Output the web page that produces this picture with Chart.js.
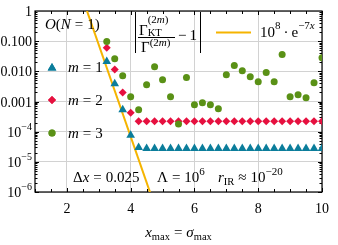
<!DOCTYPE html>
<html>
<head>
<meta charset="utf-8">
<script src="https://cdn.jsdelivr.net/npm/chart.js@4.4.1/dist/chart.umd.min.js"></script>
<style>
    html, body { margin: 0; padding: 0; background: #fff; }
</style>
</head>
<body>
<canvas id="graficoDesvio" width="338" height="245"></canvas>
<script>
// x_max values (step 0.25)
const xMax = [3.25, 3.5, 3.75, 4.0, 4.25, 4.5, 4.75, 5.0, 5.25, 5.5, 5.75, 6.0, 6.25, 6.5,
              6.75, 7.0, 7.25, 7.5, 7.75, 8.0, 8.25, 8.5, 8.75, 9.0, 9.25, 9.5, 9.75, 10.0];

// |Gamma_KT / Gamma - 1| for m = 1, 2, 3
const devM1 = [0.021, 0.0039, 5.3e-4, 7.6e-5, 3.0e-5, 2.75e-5, 2.75e-5, 2.75e-5, 2.75e-5, 2.75e-5,
               2.75e-5, 2.75e-5, 2.75e-5, 2.75e-5, 2.75e-5, 2.75e-5, 2.75e-5, 2.75e-5, 2.75e-5, 2.75e-5,
               2.75e-5, 2.75e-5, 2.75e-5, 2.75e-5, 2.75e-5, 2.75e-5, 2.75e-5, 2.75e-5];
const devM2 = [0.061, 0.0114, 0.0020, 4.2e-4, 2.2e-4, 2.2e-4, 2.2e-4, 2.2e-4, 2.2e-4, 2.2e-4,
               2.2e-4, 2.2e-4, 2.2e-4, 2.2e-4, 2.2e-4, 2.2e-4, 2.2e-4, 2.2e-4, 2.2e-4, 2.2e-4,
               2.2e-4, 2.2e-4, 2.2e-4, 2.2e-4, 2.2e-4, 2.2e-4, 2.2e-4, 2.2e-4];
const devM3 = [0.097, 0.026, 0.0072, 0.00144, 5.3e-4, 0.0036, 0.0142, 0.0053, 0.00144, 1.8e-4,
               0.0062, 7.8e-4, 9.1e-4, 7.8e-4, 5.7e-4, 0.0077, 0.0155, 0.0105, 0.0066, 0.0045,
               0.0091, 0.0045, 0.036, 0.00144, 0.00167, 0.00133, 0.0042, 0.028];

// reference line 10^8 e^{-7x}, end points
const fitX = [2.5, 4.75];
const fitY = [2.5, 3.6e-7];

// axis ticks
const xTicks = [2, 4, 6, 8, 10];
const yTicks = [1, 0.1, 0.01, 0.001, 1e-4, 1e-5, 1e-6];
const yTickLabels = ['1', '0.100', '0.010', '0.001', '10^−4', '10^−5', '10^−6'];

const SERIF = '"Liberation Serif", "DejaVu Serif", serif';
const rm = s => s + 'px ' + SERIF;
const it = s => 'italic ' + s + 'px ' + SERIF;

const TEAL = '#0b7d9b';
const RED = '#e6103f';
const GREEN = '#5a9116';
const ORANGE = '#f5b400';

function pts(xs, ys) {
    return xs.map((x, i) => ({ x: x, y: ys[i] }));
}

// draws pieces of text one after another, returns the end x
function run(ctx, x, y, parts, measureOnly) {
    for (const p of parts) {
        x += p.dx || 0;
        ctx.font = p.f;
        if (!measureOnly) ctx.fillText(p.t, x, y + (p.dy || 0));
        x += ctx.measureText(p.t).width;
    }
    return x;
}

const frameTicks = {
    id: 'frameTicks',
    beforeDatasetsDraw(chart) {
        const { ctx, chartArea: a, scales: { x, y } } = chart;
        ctx.save();
        ctx.strokeStyle = '#000';
        ctx.lineWidth = 1;
        ctx.beginPath();
        for (let v = 1; v <= 10; v += 0.5) {
            const px = Math.round(x.getPixelForValue(v)) + 0.5;
            const len = (v % 2 === 0) ? 4 : 3;
            ctx.moveTo(px, a.bottom); ctx.lineTo(px, a.bottom - len);
            ctx.moveTo(px, a.top); ctx.lineTo(px, a.top + len);
        }
        for (let e = -6; e < 0; e++) {
            for (let k = 1; k < 10; k++) {
                const py = Math.round(y.getPixelForValue(k * Math.pow(10, e))) + 0.5;
                const len = k === 1 ? 4 : 2.5;
                ctx.moveTo(a.left, py); ctx.lineTo(a.left + len, py);
                ctx.moveTo(a.right, py); ctx.lineTo(a.right - len, py);
            }
        }
        ctx.stroke();
        ctx.lineWidth = 1.2;
        ctx.strokeRect(a.left, a.top, a.right - a.left, a.bottom - a.top);
        ctx.restore();
    },
    afterDraw(chart) {
        const { ctx, chartArea: a, scales: { y } } = chart;
        ctx.save();
        ctx.fillStyle = '#000';
        ctx.textBaseline = 'alphabetic';

        // y tick labels
        yTicks.forEach((v, i) => {
            const py = y.getPixelForValue(v);
            const [base, sup] = yTickLabels[i].split('^');
            const parts = [{ t: base, f: rm(14) }];
            if (sup) parts.push({ t: sup, f: rm(10), dy: -7 });
            const w = run(ctx, 0, 0, parts, true);
            run(ctx, a.left - 3 - w, py + 5, parts);
        });

        // x axis title
        const title = [
            { t: 'x', f: it(15) }, { t: 'max', f: rm(10.5), dy: 3 },
            { t: '=', f: rm(15), dx: 4 },
            { t: 'σ', f: it(15), dx: 4 }, { t: 'max', f: rm(10.5), dy: 3 }
        ];
        const tw = run(ctx, 0, 0, title, true);
        run(ctx, (a.left + a.right) / 2 - tw / 2, 237, title);

        // O(N = 1)
        run(ctx, 45, 29, [
            { t: 'O', f: it(15) }, { t: '(', f: rm(15) }, { t: 'N', f: it(15) },
            { t: '=', f: rm(15), dx: 4 }, { t: '1', f: rm(15), dx: 4 }, { t: ')', f: rm(15) }
        ]);

        // legend for markers
        const legend = [[TEAL, 'triangle', '1', 67], [RED, 'rectRot', '2', 100], [GREEN, 'circle', '3', 133]];
        legend.forEach(([c, shape, n, py]) => {
            ctx.fillStyle = c;
            const r = shape === 'triangle' ? 5 : (shape === 'rectRot' ? 4 : 3.5);
            Chart.helpers.drawPoint(ctx, { pointStyle: shape, radius: r, rotation: 0, borderWidth: 0 }, 52, shape === 'triangle' ? py + 1 : py);
            ctx.fill();
            ctx.fillStyle = '#000';
            run(ctx, 68, py + 5, [
                { t: 'm', f: it(15) }, { t: '=', f: rm(15), dx: 4 }, { t: n, f: rm(15), dx: 4 }
            ]);
        });

        // |Gamma_KT / Gamma - 1|
        ctx.strokeStyle = '#000';
        ctx.lineWidth = 1;
        ctx.beginPath();
        ctx.moveTo(135.5, 12); ctx.lineTo(135.5, 53);
        ctx.moveTo(200.5, 12); ctx.lineTo(200.5, 53);
        ctx.moveTo(138, 37.5); ctx.lineTo(175, 37.5);
        ctx.stroke();
        const sup2m = [{ t: '(', f: rm(11) }, { t: '2', f: rm(11) }, { t: 'm', f: it(11) }, { t: ')', f: rm(11) }];
        let gx = run(ctx, 139, 35, [{ t: 'Γ', f: rm(15) }]);
        run(ctx, gx, 23, sup2m);
        run(ctx, gx, 36, [{ t: 'KT', f: rm(10.5) }]);
        gx = run(ctx, 141, 52, [{ t: 'Γ', f: rm(15) }]);
        run(ctx, gx, 46, sup2m);
        run(ctx, 178, 40, [{ t: '−', f: rm(15) }, { t: '1', f: rm(15), dx: 3 }]);

        // reference line legend
        ctx.strokeStyle = ORANGE;
        ctx.lineWidth = 2;
        ctx.beginPath();
        ctx.moveTo(216, 32.5); ctx.lineTo(251, 32.5);
        ctx.stroke();
        run(ctx, 260, 37, [
            { t: '10', f: rm(15) }, { t: '8', f: rm(11), dy: -8 },
            { t: '·', f: rm(15), dx: 3 }, { t: 'e', f: rm(15), dx: 3 },
            { t: '−7', f: rm(11), dy: -8 }, { t: 'x', f: it(11), dy: -8 }
        ]);

        // parameters at the bottom
        run(ctx, 73, 182, [
            { t: 'Δ', f: rm(15) }, { t: 'x', f: it(15) }, { t: '=', f: rm(15), dx: 4 },
            { t: '0.025', f: rm(15), dx: 4 }
        ]);
        run(ctx, 157, 182, [
            { t: 'Λ', f: rm(15) }, { t: '=', f: rm(15), dx: 4 },
            { t: '10', f: rm(15), dx: 4 }, { t: '6', f: rm(11), dy: -7 }
        ]);
        run(ctx, 218, 182, [
            { t: 'r', f: it(15) }, { t: 'IR', f: rm(10.5), dy: 3 }, { t: '≈', f: rm(15), dx: 4 },
            { t: '10', f: rm(15), dx: 4 }, { t: '−20', f: rm(11), dy: -7 }
        ]);
        ctx.restore();
    }
};

const marker = (color, style, radius) => ({
    type: 'scatter',
    backgroundColor: color,
    borderColor: color,
    borderWidth: 0,
    pointStyle: style,
    pointRadius: radius,
    pointHoverRadius: radius
});

new Chart(document.getElementById('graficoDesvio'), {
    data: {
        datasets: [
            Object.assign(marker(GREEN, 'circle', 3.5), { label: 'm = 3', data: pts(xMax, devM3), order: 0 }),
            Object.assign(marker(RED, 'rectRot', 4), { label: 'm = 2', data: pts(xMax, devM2), order: 1 }),
            Object.assign(marker(TEAL, 'triangle', 5), { label: 'm = 1', data: pts(xMax, devM1), order: 2 }),
            {
                type: 'line',
                label: '10^8 e^-7x',
                data: pts(fitX, fitY),
                borderColor: ORANGE,
                borderWidth: 2,
                pointRadius: 0,
                fill: false,
                order: 3
            }
        ]
    },
    options: {
        responsive: false,
        animation: false,
        devicePixelRatio: 1,
        layout: { padding: { top: 11, right: 8, left: 0, bottom: 0 } },
        plugins: { legend: { display: false }, tooltip: { enabled: false } },
        scales: {
            x: {
                type: 'linear',
                min: 1,
                max: 10,
                afterBuildTicks: s => { s.ticks = xTicks.map(v => ({ value: v })); },
                afterFit: s => { s.height = 53; },
                grid: { color: '#d2d2d2', lineWidth: 1, drawTicks: false },
                border: { display: false },
                ticks: { color: '#000', padding: 9, maxRotation: 0, font: { family: SERIF, size: 14 } }
            },
            y: {
                type: 'logarithmic',
                min: 1e-6,
                max: 1,
                afterBuildTicks: s => { s.ticks = yTicks.map(v => ({ value: v })); },
                afterFit: s => { s.width = 35; },
                grid: { color: '#d2d2d2', lineWidth: 1, drawTicks: false },
                border: { display: false },
                ticks: { display: false }
            }
        }
    },
    plugins: [frameTicks]
});
</script>
</body>
</html>
